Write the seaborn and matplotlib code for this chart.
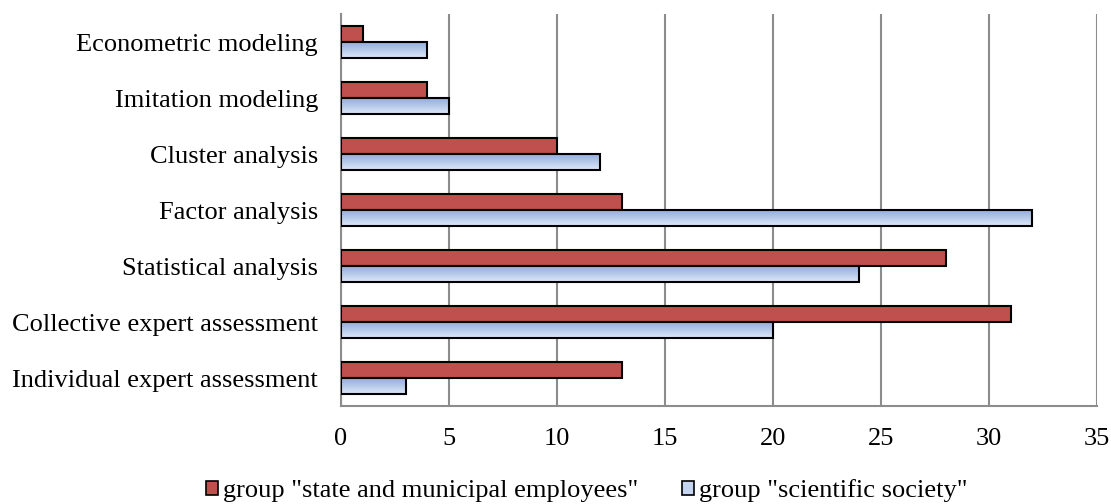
import numpy as np
import pandas as pd
import matplotlib
matplotlib.use("Agg")
import matplotlib.pyplot as plt
import seaborn as sns
from matplotlib.colors import LinearSegmentedColormap
from matplotlib.patches import Rectangle

categories = ["Econometric modeling", "Imitation modeling", "Cluster analysis",
              "Factor analysis", "Statistical analysis",
              "Collective expert assessment", "Individual expert assessment"]
state_vals = [1, 4, 10, 13, 28, 31, 13]
science_vals = [4, 5, 12, 32, 24, 20, 3]
series_names = ['group "state and municipal employees"', 'group "scientific society"']
x_ticks = [0, 5, 10, 15, 20, 25, 30, 35]

df = pd.DataFrame({
    "category": categories * 2,
    "value": state_vals + science_vals,
    "series": [series_names[0]] * len(categories) + [series_names[1]] * len(categories),
})

sns.set_style("white")
plt.rcParams["font.family"] = ["Liberation Serif", "DejaVu Serif"]
plt.rcParams["text.color"] = "black"
plt.rcParams["xtick.labelcolor"] = "black"
plt.rcParams["ytick.labelcolor"] = "black"

red = "#C0504D"
blue_mid = "#B9CBEC"

fig = plt.figure(figsize=(11.11, 5.04), dpi=100)
ax = fig.add_axes([341 / 1111, 1 - 406 / 504, (1097 - 341) / 1111, (406 - 14) / 504])

sns.barplot(data=df, y="category", x="value", hue="series", order=categories,
            hue_order=series_names, palette=[red, blue_mid], width=0.58,
            orient="h", edgecolor="black", linewidth=1.5, ax=ax, legend=False,
            saturation=1, zorder=3)

# gradient fill for the blue bars
cmap = LinearSegmentedColormap.from_list("bl", ["#8EA9DB", "#DDE7F7"])
grad = np.linspace(0, 1, 64).reshape(-1, 1)
n = len(categories)
patches = list(ax.patches)
for p in patches[n:2 * n]:
    x0, y0 = p.get_x(), p.get_y()
    w, h = p.get_width(), p.get_height()
    im = ax.imshow(grad, cmap=cmap, aspect="auto", extent=(x0, x0 + w, y0 + h, y0),
                   origin="upper", zorder=3.5, interpolation="bilinear")
    im.set_clip_path(p)
    p.set_facecolor("none")
    p.set_zorder(4)

ax.set_xlim(0, 35)
ax.set_ylim(n - 0.5, -0.5)
ax.set_xticks(x_ticks)
ax.set_xticklabels([str(t) for t in x_ticks], fontsize=19, color="black")
ax.set_yticks(range(n))
ax.set_yticklabels(categories, fontsize=19, color="black")
ax.set_yticks(np.arange(-0.5, n, 1.0), minor=True)
ax.tick_params(axis="y", which="major", length=0, pad=16.5)
ax.tick_params(axis="y", which="minor", length=6, width=1.5, color="#888888", direction="out")
ax.tick_params(axis="x", which="major", length=6, width=1.5, color="#888888", direction="out", pad=10)
ax.set_xlabel("")
ax.set_ylabel("")

ax.grid(axis="x", color="#8C8C8C", linewidth=1.5, zorder=0)
ax.set_axisbelow(True)
for s in ["top", "right"]:
    ax.spines[s].set_visible(False)
for s in ["left", "bottom"]:
    ax.spines[s].set_color("#8C8C8C")
    ax.spines[s].set_linewidth(1.5)

handles = [Rectangle((0, 0), 1, 1, facecolor=red, edgecolor="black", linewidth=1.2),
           Rectangle((0, 0), 1, 1, facecolor="#C5D5F0", edgecolor="black", linewidth=1.2)]
fig.legend(handles, series_names, loc="center", bbox_to_anchor=(587 / 1111, 1 - 491 / 504),
           ncol=2, frameon=False, fontsize=19, handlelength=0.45, handleheight=0.45,
           handletextpad=0.2, columnspacing=1.65, borderpad=0.1)

fig.savefig("out.png", dpi=100)
